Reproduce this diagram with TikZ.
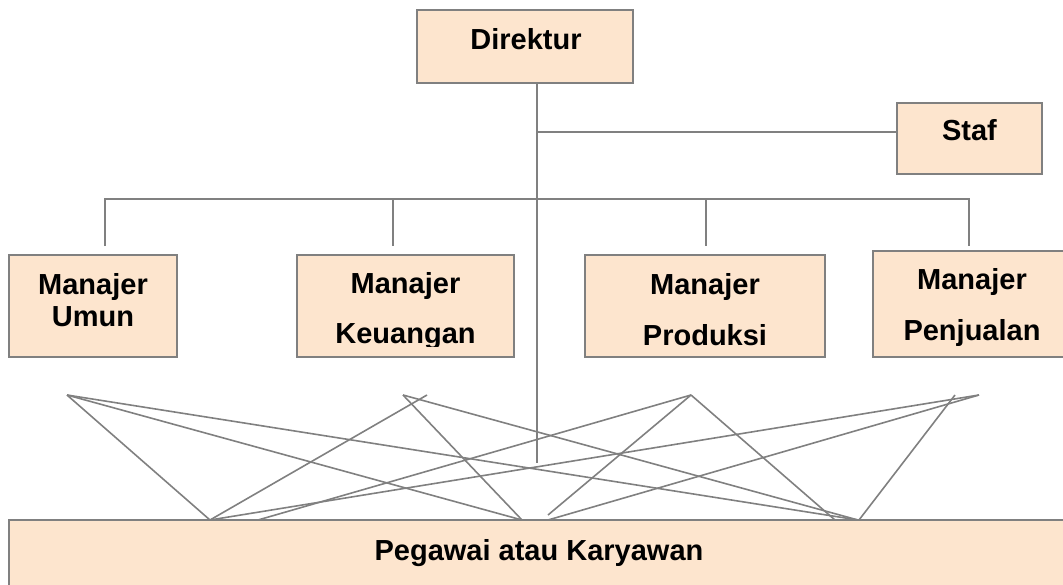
\documentclass[tikz,border=0pt]{standalone}
\usepackage{fontspec}
\setmainfont{Liberation Sans}
\definecolor{boxfill}{RGB}{253,229,206}
\definecolor{edgegray}{RGB}{128,128,128}
\begin{document}
\begin{tikzpicture}[x=1pt,y=-1pt,
  box/.style={draw=edgegray, line width=1.8pt, fill=boxfill, rectangle,
    inner sep=0pt, outer sep=0pt},
  lbl/.style={inner sep=0pt, anchor=base,
    font=\bfseries\fontsize{29}{34}\selectfont},
  link/.style={draw=edgegray, line width=1.6pt}]
\useasboundingbox (0,0) rectangle (1063,584);
\begin{scope}
\clip (0,0) rectangle (1063,584);

% boxes
\node[box, minimum width=216pt, minimum height=73pt]  (dir)  at (525,46.5)   {};
\node[box, minimum width=145pt, minimum height=71pt]  (staf) at (969.5,138.5) {};
\node[box, minimum width=168pt, minimum height=102pt] (mu)   at (93,306)     {};
\node[box, minimum width=217pt, minimum height=102pt] (mk)   at (405.5,306)  {};
\node[box, minimum width=240pt, minimum height=102pt] (mp)   at (705,306)    {};
\node[box, minimum width=197pt, minimum height=106pt] (mj)   at (971.5,304)  {};
\node[box, minimum width=1061pt, minimum height=80pt] (peg)  at (539.5,560)  {};

% labels
\node[lbl] (dirT)  at (526,49.4)   {Direktur};
\node[lbl] (stafT) at (969.5,140.4) {Staf};
\node[lbl] (muA)   at (93,294)     {Manajer};
\node[lbl] (muB)   at (93,326.4)   {Umun};
\node[lbl] (mkA)   at (405.5,293.4) {Manajer};
\begin{scope}
  \clip (297,255) rectangle (514,346);
  \node[lbl] (mkB) at (405.5,343.4) {Keuangan};
\end{scope}
\node[lbl] (mpA)   at (705,294.4)  {Manajer};
\node[lbl] (mpB)   at (705,345.4)  {Produksi};
\node[lbl] (mjA)   at (972,289)    {Manajer};
\node[lbl] (mjB)   at (972,340.4)  {Penjualan};
\node[lbl] (pegT)  at (539,560.4)  {Pegawai atau Karyawan};

% trunk from the director and branch to the staff
\coordinate (trunkEnd) at (537,463);
\coordinate (stafJoin) at (537,132);
\draw[link] (dir.south -| trunkEnd) -- (trunkEnd);
\draw[link] (stafJoin) -- (stafJoin -| staf.west);

% bus to the managers
\coordinate (bus1) at (105,199);
\coordinate (bus2) at (393,199);
\coordinate (bus3) at (706,199);
\coordinate (bus4) at (969,199);
\coordinate (uEnd) at (105,246);
\coordinate (kEnd) at (393,246);
\coordinate (pEnd) at (706,246);
\coordinate (jEnd) at (969,246);
\draw[link] (uEnd) -- (bus1) -- (bus4) -- (jEnd);
\draw[link] (bus2) -- (kEnd);
\draw[link] (bus3) -- (pEnd);

% crossing lines between managers and employees
\coordinate (tA)  at (67,395);
\coordinate (tB)  at (403,395);
\coordinate (tB2) at (427,395);
\coordinate (tC)  at (691,395);
\coordinate (tD)  at (979,395);
\coordinate (tE)  at (955,395);
\coordinate (b1) at (210,520);
\coordinate (b2) at (258,520);
\coordinate (b3) at (522,520);
\coordinate (b4) at (548,515);
\coordinate (b5) at (548,520);
\coordinate (b6) at (835,520);
\coordinate (b7) at (858,520);
\coordinate (b8) at (859,520);
\draw[link] (tA) -- (b1);
\draw[link] (tA) -- (b3);
\draw[link] (tA) -- (b7);
\draw[link] (tB) -- (b3);
\draw[link] (tB) -- (b7);
\draw[link] (tB2) -- (b1);
\draw[link] (tC) -- (b2);
\draw[link] (tC) -- (b4);
\draw[link] (tC) -- (b6);
\draw[link] (tD) -- (b1);
\draw[link] (tD) -- (b5);
\draw[link] (tE) -- (b8);
\end{scope}
\end{tikzpicture}
\end{document}
